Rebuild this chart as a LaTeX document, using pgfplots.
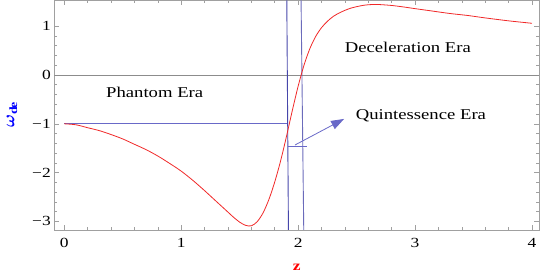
\documentclass[border=0pt]{standalone}
\usepackage{fontspec}
\setmainfont{Liberation Serif}[FakeStretch=1.25]
\usepackage{amsmath}
\usepackage{pgfplots}
\pgfplotsset{compat=1.18}
\usetikzlibrary{arrows.meta}
\definecolor{redc}{RGB}{240,40,40}
\definecolor{bluedark}{RGB}{70,70,170}
\definecolor{bluelight}{RGB}{105,105,200}
\definecolor{framec}{RGB}{160,160,160}
\begin{document}
\begin{tikzpicture}
\begin{axis}[name=ax, scale only axis, width=484.7bp, height=229.5bp,
 xmin=-0.0855, xmax=4.06, ymin=-3.176, ymax=1.527,
 xtick={0,1,2,3,4}, xticklabels={0,1,2,3,4},
 ytick={-3,-2,-1,0,1}, yticklabels={−3,−2,−1,0,1},
 minor x tick num=4, minor y tick num=4,
 tick align=inside, major tick length=5bp, minor tick length=3bp,
 tick style={framec, line width=0.6bp},
 axis line style={framec, line width=0.8bp},
 ticklabel style={font=\fontsize{14}{16}\selectfont},
 xticklabel style={anchor=center, yshift=-12.7bp},
 xlabel={\textbf{z}},
 every axis x label/.style={at={(axis description cs:0.5,-0.161)}, anchor=center, text=red, font=\fontsize{14}{16}\selectfont},
 ylabel={$\boldsymbol{\omega}_{\mathbf{de}}$},
 every axis y label/.style={at={(axis description cs:-0.0873,0.5)}, anchor=center, rotate=90, text=blue, font=\fontsize{16}{18}\selectfont},
]
\addplot[black!45, line width=0.6bp] coordinates {(-0.0855,0) (4.06,0)};
\addplot[bluelight, line width=0.9bp] coordinates {(0,-1) (1.91,-1)};
\addplot[bluedark, line width=0.9bp] coordinates {(1.903,1.527) (1.917,-3.176)};
\addplot[bluedark!80, line width=0.9bp] coordinates {(2.025,1.527) (2.048,-3.176)};
\addplot[bluelight, line width=0.8bp] coordinates {(1.917,-1.455) (2.076,-1.455)};
\addplot[bluelight, line width=0.8bp, -{Triangle[length=13bp,width=9bp]}] coordinates {(1.973,-1.434) (2.393,-0.90)};
\addplot[redc, line width=0.8bp, smooth] table {
0 -1
0.1 -1.02
0.2 -1.08
0.3 -1.14
0.4 -1.22
0.5 -1.31
0.6 -1.42
0.7 -1.53
0.8 -1.66
0.9 -1.81
1.0 -1.97
1.1 -2.16
1.2 -2.37
1.3 -2.59
1.35 -2.70
1.40 -2.81
1.45 -2.92
1.50 -3.015
1.55 -3.08
1.60 -3.09
1.65 -3.005
1.70 -2.825
1.75 -2.55
1.80 -2.19
1.85 -1.76
1.90 -1.26
1.95 -0.73
2.00 -0.23
2.05 0.20
2.10 0.54
2.15 0.79
2.20 0.97
2.25 1.10
2.30 1.20
2.35 1.27
2.40 1.325
2.45 1.37
2.50 1.40
2.55 1.425
2.60 1.44
2.65 1.445
2.70 1.443
2.80 1.425
2.90 1.395
3.00 1.36
3.15 1.31
3.30 1.26
3.45 1.22
3.60 1.17
3.80 1.11
4.00 1.06
};
\node[font=\fontsize{15}{17}\selectfont] at (axis cs:0.773,-0.365) {Phantom Era};
\node[font=\fontsize{15}{17}\selectfont] at (axis cs:2.938,0.574) {Deceleration Era};
\node[font=\fontsize{15}{17}\selectfont] at (axis cs:3.05,-0.84) {Quintessence Era};
\end{axis}
\pgfresetboundingbox
\path ([xshift=-54.3bp,yshift=-43bp]ax.south west) rectangle ([xshift=6bp,yshift=0.5bp]ax.north east);
\end{tikzpicture}
\end{document}
